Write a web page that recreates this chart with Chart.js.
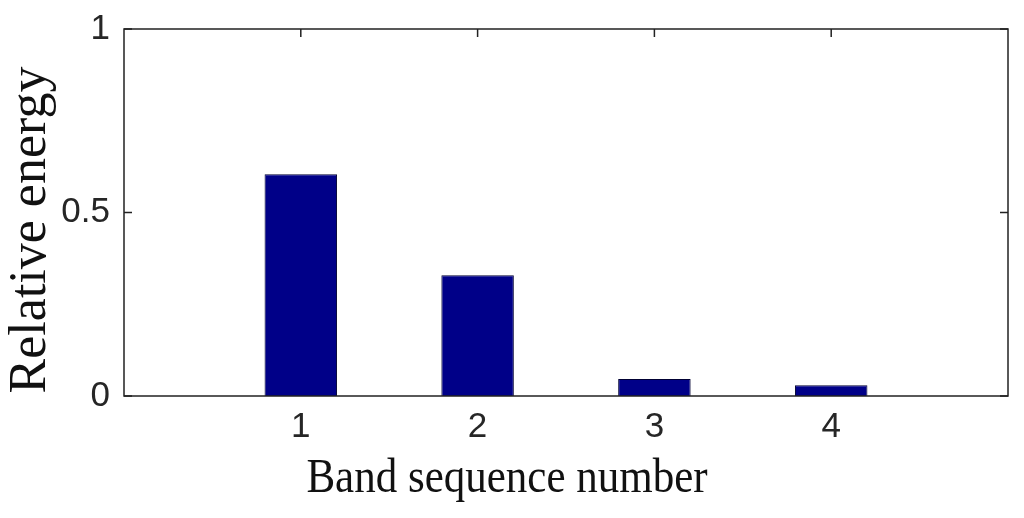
<!DOCTYPE html>
<html>
<head>
<meta charset="utf-8">
<script src="https://cdn.jsdelivr.net/npm/chart.js@4.4.0/dist/chart.umd.min.js"></script>
<style>
  html, body { margin: 0; padding: 0; background: #fff; }
  #wrap { width: 1024px; height: 518px; position: relative; }
</style>
</head>
<body>
<div id="wrap"><canvas id="chart"></canvas></div>
<script>
// data
const bands = [1, 2, 3, 4];
const energy = [0.604, 0.329, 0.046, 0.029];
const xTickLabels = ['1', '2', '3', '4'];
const yTicks = [0, 0.5, 1];
const yTickLabels = ['0', '0.5', '1'];
const xTitle = 'Band sequence number';
const yTitle = 'Relative energy';

const barColor = '#000088';

// inward ticks go under the bars, the box and titles on top
const matlabAxes = {
    id: 'matlabAxes',
    beforeDatasetsDraw(chart) {
        const { ctx, chartArea: a, scales } = chart;
        ctx.save();
        ctx.strokeStyle = '#222';
        ctx.lineWidth = 1.5;
        ctx.beginPath();
        const len = 8;
        yTicks.forEach(v => {
            const y = scales.y.getPixelForValue(v);
            ctx.moveTo(a.left, y); ctx.lineTo(a.left + len, y);
            ctx.moveTo(a.right, y); ctx.lineTo(a.right - len, y);
        });
        bands.forEach(v => {
            const x = scales.x.getPixelForValue(v);
            ctx.moveTo(x, a.top); ctx.lineTo(x, a.top + len);
            ctx.moveTo(x, a.bottom); ctx.lineTo(x, a.bottom - len);
        });
        ctx.stroke();
        ctx.restore();
    },
    afterDraw(chart) {
        const { ctx, chartArea: a } = chart;
        ctx.save();
        ctx.strokeStyle = '#222';
        ctx.lineWidth = 1.5;
        ctx.strokeRect(a.left, a.top, a.right - a.left, a.bottom - a.top);

        ctx.fillStyle = '#111';
        ctx.textBaseline = 'alphabetic';
        ctx.textAlign = 'center';
        ctx.font = '43px "Liberation Serif", "Times New Roman", serif';
        ctx.save();
        ctx.translate(507, 492);
        ctx.scale(1, 1.12);
        ctx.fillText(xTitle, 0, 0);
        ctx.restore();

        ctx.font = '52px "Liberation Serif", "Times New Roman", serif';
        ctx.translate(45, 230);
        ctx.rotate(-Math.PI / 2);
        ctx.fillText(yTitle, 0, 0);
        ctx.restore();
    }
};

const tickFont = { family: '"Liberation Sans", Arial, sans-serif', size: 35 };

new Chart(document.getElementById('chart'), {
    type: 'bar',
    data: {
        datasets: [{
            data: bands.map((b, i) => ({ x: b, y: energy[i] })),
            backgroundColor: barColor,
            borderColor: '#000033',
            borderWidth: 1,
            barPercentage: 0.41,
            categoryPercentage: 1
        }]
    },
    options: {
        responsive: true,
        maintainAspectRatio: false,
        animation: false,
        layout: { padding: { top: 29, right: 16, left: 0, bottom: 0 } },
        plugins: {
            legend: { display: false },
            tooltip: { enabled: false }
        },
        scales: {
            x: {
                type: 'linear',
                offset: false,
                min: 0,
                max: 5,
                grid: { display: false, drawTicks: false, offset: false },
                border: { display: false },
                ticks: {
                    stepSize: 1,
                    padding: 10,
                    color: '#262626',
                    font: tickFont,
                    maxRotation: 0,
                    autoSkip: false,
                    callback: v => {
                        const i = bands.indexOf(v);
                        return i >= 0 ? xTickLabels[i] : '';
                    }
                },
                afterFit: s => { s.height = 122; s.paddingLeft = 0; s.paddingRight = 0; }
            },
            y: {
                min: 0,
                max: 1,
                grid: { display: false, drawTicks: false },
                border: { display: false },
                ticks: {
                    stepSize: 0.5,
                    padding: 14,
                    color: '#262626',
                    font: tickFont,
                    callback: v => {
                        const i = yTicks.indexOf(v);
                        return i >= 0 ? yTickLabels[i] : '';
                    }
                },
                afterFit: s => { s.width = 124; s.paddingTop = 0; s.paddingBottom = 0; }
            }
        }
    },
    plugins: [matlabAxes]
});
</script>
</body>
</html>
